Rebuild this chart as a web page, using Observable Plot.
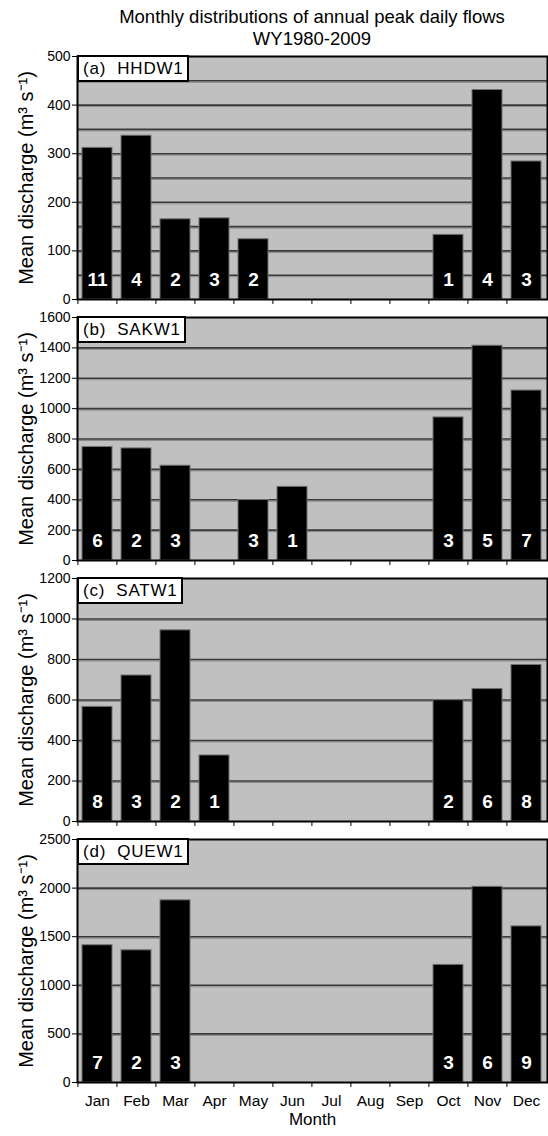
<!DOCTYPE html>
<html>
<head>
<meta charset="utf-8">
<script src="https://cdn.jsdelivr.net/npm/d3@7"></script>
<script src="https://cdn.jsdelivr.net/npm/@observablehq/plot@0.6"></script>
<style>
  html, body { margin: 0; padding: 0; background: #fff; }
  body { width: 548px; font-family: "Liberation Sans", Arial, sans-serif; color: #000; }
  #title { box-sizing: border-box; height: 44px; overflow: visible; padding: 6px 1px 0 77px;
           text-align: center; font-size: 18.5px; line-height: 22px; position: relative; z-index: 2; }
  .panel { position: relative; width: 548px; }
  .panel svg { display: block; }
  .tag { position: absolute; left: 77px; top: 11px; background: #fff; border: 2px solid #000;
         font-size: 17px; line-height: 23px; padding: 0 3px 0 4px; white-space: pre; letter-spacing: 0.8px; }
</style>
</head>
<body>
<div id="title">Monthly distributions of annual peak daily flows<br>WY1980-2009</div>
<div id="chart"></div>
<script>
// ---- categories ----
const months = ["Jan","Feb","Mar","Apr","May","Jun","Jul","Aug","Sep","Oct","Nov","Dec"];

// ---- (a) HHDW1 ----
const hhdwMonths = ["Jan","Feb","Mar","Apr","May","Oct","Nov","Dec"];
const hhdwValues = [312, 337, 165, 167, 124, 133, 431, 284];
const hhdwCounts = [11, 4, 2, 3, 2, 1, 4, 3];
const hhdwTicks = [0, 100, 200, 300, 400, 500];
const hhdwGrid = [50, 100, 150, 200, 250, 300, 350, 400, 450];

// ---- (b) SAKW1 ----
const sakwMonths = ["Jan","Feb","Mar","May","Jun","Oct","Nov","Dec"];
const sakwValues = [747, 738, 624, 398, 485, 942, 1414, 1119];
const sakwCounts = [6, 2, 3, 3, 1, 3, 5, 7];
const sakwTicks = [0, 200, 400, 600, 800, 1000, 1200, 1400, 1600];
const sakwGrid = [200, 400, 600, 800, 1000, 1200, 1400];

// ---- (c) SATW1 ----
const satwMonths = ["Jan","Feb","Mar","Apr","Oct","Nov","Dec"];
const satwValues = [566, 721, 944, 326, 599, 654, 773];
const satwCounts = [8, 3, 2, 1, 2, 6, 8];
const satwTicks = [0, 200, 400, 600, 800, 1000, 1200];
const satwGrid = [200, 400, 600, 800, 1000];

// ---- (d) QUEW1 ----
const quewMonths = ["Jan","Feb","Mar","Oct","Nov","Dec"];
const quewValues = [1412, 1360, 1874, 1210, 2013, 1606];
const quewCounts = [7, 2, 3, 3, 6, 9];
const quewTicks = [0, 500, 1000, 1500, 2000, 2500];
const quewGrid = [500, 1000, 1500, 2000];

const yLabel = "Mean discharge (m³ s⁻¹)";
const xLabel = "Month";

const W = 548, ML = 77, MR = 1, MT = 12, PH = 243;
const step = (W - ML - MR) / months.length;

function panel(tag, mon, val, cnt, yMax, ticks, grid, last) {
  const data = mon.map((m, i) => ({month: m, value: val[i], count: cnt[i]}));
  const MB = last ? 54 : 6;
  const marks = [
    Plot.frame({fill: "#c0c0c0", stroke: null}),
    Plot.gridY(grid, {stroke: "#8a8a8a", strokeOpacity: 1, strokeWidth: 1, dy: 1.5}),
    Plot.gridY(grid, {stroke: "#383838", strokeOpacity: 1, strokeWidth: 1.6}),
    Plot.barY(data, {x: "month", y: "value", fill: "#000", stroke: "#707070", strokeWidth: 1}),
    Plot.text(data, {x: "month", y: () => 0, text: d => String(d.count), dy: -20,
      fill: "#fff", fontWeight: "bold", fontSize: 19}),
    Plot.axisY(ticks, {tickSize: 5, tickPadding: 2, fontSize: 14, label: null, stroke: "#000",
      tickFormat: d => String(d)}),
    Plot.axisX(months, {tickSize: 5, tickFormat: () => "", dx: -step / 2, label: null, stroke: "#000"}),
    Plot.frame({stroke: "#000", strokeWidth: 2}),
    Plot.text([yLabel], {frameAnchor: "left", textAnchor: "middle", rotate: -90, dx: -51, fontSize: 20})
  ];
  if (last) {
    marks.push(Plot.axisX(months, {tickSize: 0, tickPadding: 12, fontSize: 15.5, label: null}));
    marks.push(Plot.text([xLabel], {frameAnchor: "bottom", dy: 42, fontSize: 17}));
  }
  const svg = Plot.plot({
    width: W, height: MT + PH + MB,
    marginTop: MT, marginBottom: MB, marginLeft: ML, marginRight: MR,
    style: {background: "transparent", fontFamily: "'Liberation Sans', Arial, sans-serif",
            fontSize: "14px", color: "#000", overflow: "visible"},
    x: {domain: months, paddingInner: 0.22, paddingOuter: 0.11, axis: null},
    y: {domain: [0, yMax], axis: null},
    marks
  });
  const div = document.createElement("div");
  div.className = "panel";
  div.appendChild(svg);
  const t = document.createElement("div");
  t.className = "tag";
  t.textContent = tag;
  div.appendChild(t);
  document.getElementById("chart").appendChild(div);
}

panel("(a)  HHDW1", hhdwMonths, hhdwValues, hhdwCounts, 500, hhdwTicks, hhdwGrid, false);
panel("(b)  SAKW1", sakwMonths, sakwValues, sakwCounts, 1600, sakwTicks, sakwGrid, false);
panel("(c)  SATW1", satwMonths, satwValues, satwCounts, 1200, satwTicks, satwGrid, false);
panel("(d)  QUEW1", quewMonths, quewValues, quewCounts, 2500, quewTicks, quewGrid, true);
</script>
</body>
</html>
